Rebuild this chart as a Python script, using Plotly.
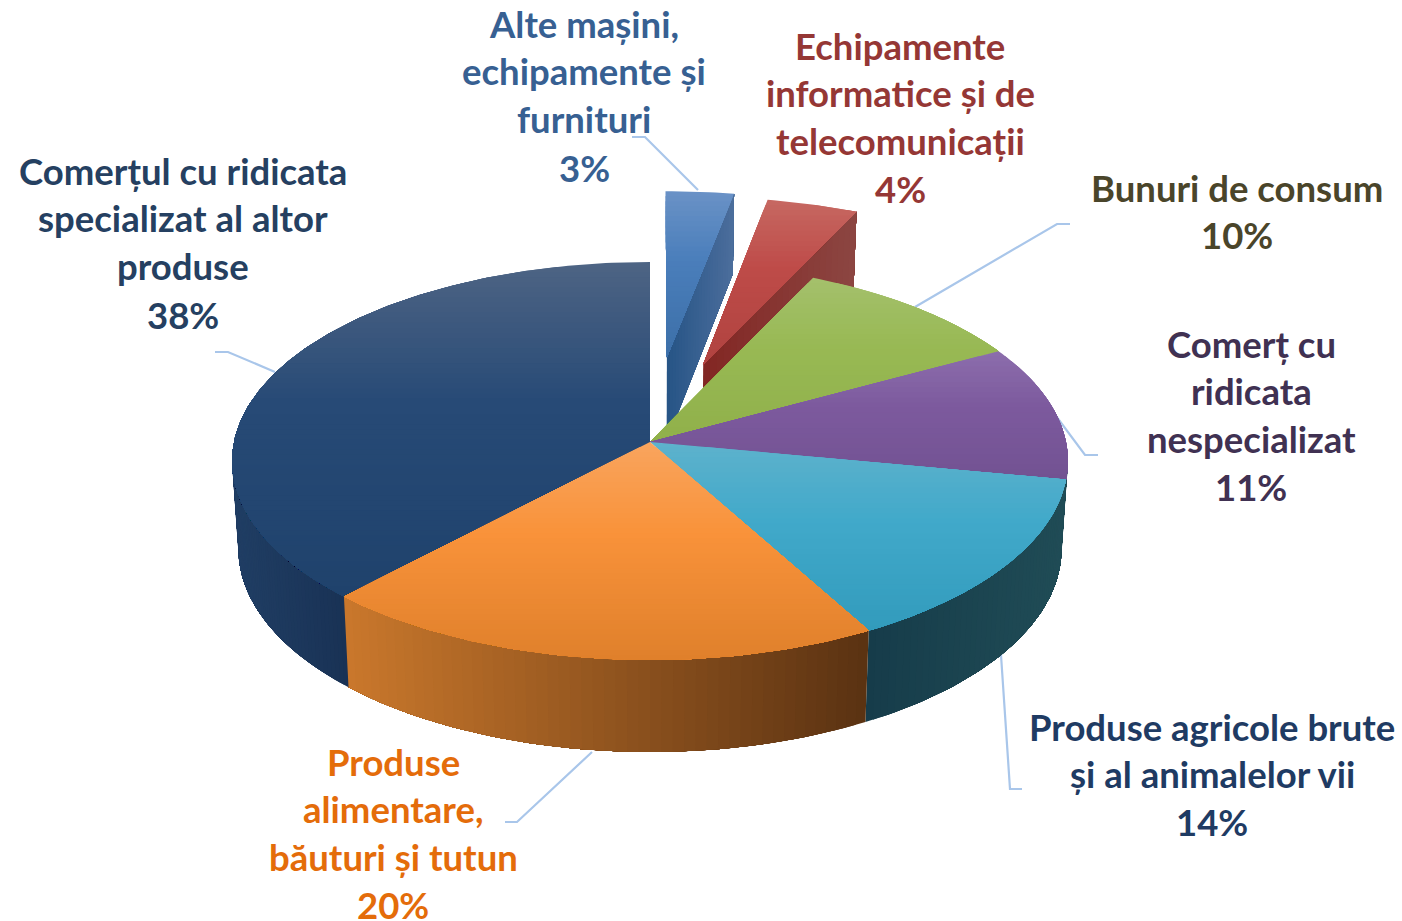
import math
import plotly.graph_objects as go

# ---------- data ----------
categories = [
    "Alte mașini, echipamente și furnituri",
    "Echipamente informatice și de telecomunicații",
    "Bunuri de consum",
    "Comerț cu ridicata nespecializat",
    "Produse agricole brute și al animalelor vii",
    "Produse alimentare, băuturi și tutun",
    "Comerțul cu ridicata specializat al altor produse",
]
values = [3, 4, 10, 11, 14, 20, 38]
exploded = [0.45, 0.43, 0, 0, 0, 0, 0]

label_lines = [
    ["Alte mașini,", "echipamente și", "furnituri", "3%"],
    ["Echipamente", "informatice și de", "telecomunicații", "4%"],
    ["Bunuri de consum", "10%"],
    ["Comerț cu", "ridicata", "nespecializat", "11%"],
    ["Produse agricole brute", "și al animalelor vii", "14%"],
    ["Produse", "alimentare,", "băuturi și tutun", "20%"],
    ["Comerțul cu ridicata", "specializat al altor", "produse", "38%"],
]
label_colors = ["#376092", "#953735", "#4a452a", "#403152", "#1f3b63", "#e46c0a", "#254061"]
label_x = [584, 900, 1237, 1251, 1212, 393, 183]
label_y = [
    [23.5, 70.5, 118.5, 167.5],
    [45.5, 92.5, 140.5, 188.5],
    [187.5, 234.5],
    [343.5, 390.5, 438.5, 486.5],
    [726.5, 773.5, 821.5],
    [761.5, 808.5, 856.5, 904.5],
    [170.5, 217.5, 265.5, 314.5],
]
leaders = [
    ([632, 645, 698], [137, 137, 190]),
    ([1070, 1057, 915], [224, 224, 307]),
    ([1098, 1085, 1053], [455, 455, 412]),
    ([1022, 1010, 1001], [789, 789, 655]),
    ([505, 517, 592], [822, 822, 752]),
    ([215, 228, 275], [352, 352, 372]),
]

# top-face gradient stops (lighter, base, darker) per slice
top_colors = [
    ((106, 146, 198), (74, 126, 187), (60, 111, 168)),
    ((198, 104, 98), (190, 75, 72), (176, 67, 64)),
    ((164, 192, 108), (152, 185, 84), (144, 176, 74)),
    ((140, 110, 172), (125, 90, 158), (114, 82, 146)),
    ((94, 178, 204), (65, 169, 202), (50, 155, 188)),
    ((249, 165, 94), (249, 146, 58), (223, 128, 43)),
    ((78, 100, 132), (39, 74, 118), (31, 66, 108)),
]
# side-wall colours, left to right
wall_colors = [
    ((38, 84, 134), (76, 110, 156)),
    ((130, 38, 35), (140, 70, 66)),
    None,
    None,
    ((22, 60, 74), (32, 76, 86)),
    ((202, 120, 44), (90, 50, 18)),
    ((32, 62, 100), (25, 50, 85)),
]

# ---------- projection of the tilted pie ----------
CX, CY = 650.0, 442.0
RX, RY, K = 416.0, 197.2, 0.0955
BOTTOM_SCALE = 0.985


def project(X, Y, bottom=False):
    w = 1 + K * Y
    x = RX * X / w
    y = CY - RY * Y / w
    if bottom:
        x *= BOTTOM_SCALE
        y += 87 - 5 * Y
    return CX + x, y


def rim(a, off, bottom=False):
    return project(off[0] + math.sin(a), off[1] + math.cos(a), bottom)


def clip(poly, ylo, yhi):
    def cut(p, inside, yc):
        out = []
        for i in range(len(p)):
            a, b = p[i], p[(i + 1) % len(p)]
            ia, ib = inside(a[1]), inside(b[1])
            if ia:
                out.append(a)
            if ia != ib:
                t = (yc - a[1]) / (b[1] - a[1])
                out.append((a[0] + t * (b[0] - a[0]), yc))
        return out
    p = cut(poly, lambda y: y >= ylo, ylo)
    if p:
        p = cut(p, lambda y: y <= yhi, yhi)
    return p


def mix(c1, c2, t):
    t = max(0.0, min(1.0, t))
    return tuple(round(c1[i] + (c2[i] - c1[i]) * t) for i in range(3))


def css(c):
    return "rgb(%d,%d,%d)" % c


fig = go.Figure()


def add_poly(pts, color):
    xs = [p[0] for p in pts] + [pts[0][0]]
    ys = [p[1] for p in pts] + [pts[0][1]]
    fig.add_trace(go.Scatter(x=xs, y=ys, mode="lines", fill="toself", fillcolor=color,
                             line=dict(color=color, width=0), hoverinfo="skip", showlegend=False))


def wall_strip(pairs, cl, cr):
    # painted cumulatively: each strip covers everything after it, so no seams show
    xs = [p[0][0] for p in pairs]
    lo, hi = min(xs), max(xs)
    for j in range(len(pairs) - 1):
        rest = pairs[j:]
        poly = [p[0] for p in rest] + [p[1] for p in reversed(rest)]
        xm = (pairs[j][0][0] + pairs[j + 1][0][0]) / 2
        add_poly(poly, css(mix(cl, cr, (xm - lo) / (hi - lo))))


total = sum(values)
edges = [0.0]
for v in values:
    edges.append(edges[-1] + v / total * 2 * math.pi)

offsets = []
for i in range(len(values)):
    mid = (edges[i] + edges[i + 1]) / 2
    offsets.append((exploded[i] * math.sin(mid), exploded[i] * math.cos(mid)))

for xs, ys in leaders:
    fig.add_trace(go.Scatter(x=xs, y=ys, mode="lines", line=dict(color="#a9c6ea", width=2.2),
                             hoverinfo="skip", showlegend=False))


def top_face(i):
    a0, a1 = edges[i], edges[i + 1]
    off = offsets[i]
    n = max(8, int((a1 - a0) * 60))
    poly = [project(off[0], off[1])] + [rim(a0 + (a1 - a0) * j / n, off) for j in range(n + 1)]
    ymin, ymax = min(p[1] for p in poly), max(p[1] for p in poly)
    c0, c1, c2 = top_colors[i]
    steps = max(6, int((ymax - ymin) / 5))
    for s in range(steps):
        lo = ymin + (ymax - ymin) * s / steps
        t = (s + 0.5) / steps
        col = mix(c0, c1, t / 0.42) if t < 0.42 else mix(c1, c2, (t - 0.42) / 0.58)
        band = clip(poly, lo, ymax + 1)   # cumulative, so no seams between bands
        if len(band) >= 3:
            add_poly(band, css(col))


# exploded slices: cut face, then top face
for i in range(len(values)):
    if exploded[i]:
        off = offsets[i]
        a1 = edges[i + 1]
        pairs = []
        for j in range(25):
            r = j / 24
            X = off[0] + r * math.sin(a1)
            Y = off[1] + r * math.cos(a1)
            pairs.append((project(X, Y), project(X, Y, True)))
        wall_strip(pairs, wall_colors[i][0], wall_colors[i][1])
        top_face(i)

# outer wall of the main pie
wall_range = {4: (edges[5], math.radians(95.5)),
              5: (edges[5], edges[6]),
              6: (edges[6], math.radians(264.5))}
for i, (a0, a1) in wall_range.items():
    n = 50
    pairs = []
    for j in range(n + 1):
        a = a0 + (a1 - a0) * j / n
        pairs.append((rim(a, (0, 0)), rim(a, (0, 0), True)))
    wall_strip(pairs, wall_colors[i][0], wall_colors[i][1])

for i in [6, 2, 3, 4, 5]:
    top_face(i)

annotations = []
for lines, color, x, ys in zip(label_lines, label_colors, label_x, label_y):
    for text, y in zip(lines, ys):
        ann = dict(x=x, y=y, xref="x", yref="y", text=text, showarrow=False,
                   xanchor="center", yanchor="middle",
                   font=dict(family="Lato", size=36.5, color=color, weight=700))
        if y + 24 > 921:
            ann["height"] = 30
        annotations.append(ann)

fig.update_layout(
    width=1402, height=921, margin=dict(l=0, r=0, t=0, b=0),
    paper_bgcolor="white", plot_bgcolor="white", showlegend=False,
    xaxis=dict(range=[0, 1402], visible=False, fixedrange=True),
    yaxis=dict(range=[921, 0], visible=False, fixedrange=True),
    annotations=annotations,
)
fig.write_html("out.html", config={"displayModeBar": False},
               post_script="document.body.style.margin='0';")
